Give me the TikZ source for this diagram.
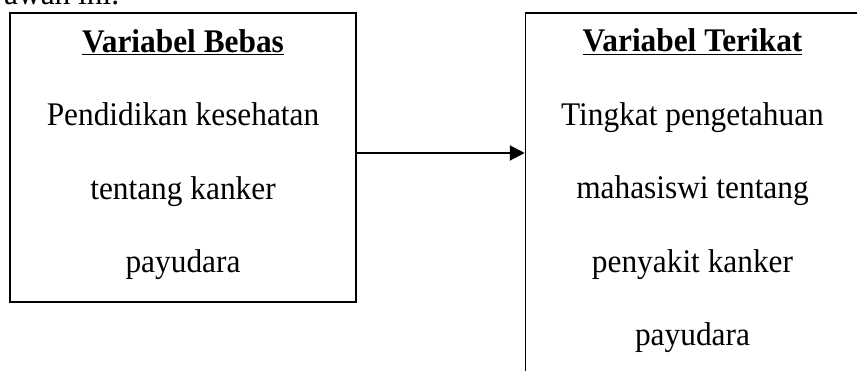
\documentclass[tikz,border=0pt]{standalone}
\usepackage{fontspec}
\setmainfont{Liberation Serif}[FakeStretch=0.95]
\usetikzlibrary{positioning,arrows.meta}

\begin{document}
\begin{tikzpicture}[%
    x=1pt, y=-1pt,
    varbox/.style={%
        draw,
        line width=1.5pt,
        align=center,
        inner sep=0pt,
        text depth=13pt,
        font=\fontsize{33}{73.5}\selectfont,
        text=black,
    },
    linkarrow/.style={%
        line width=2pt,
        -{Triangle[length=15pt,width=15pt]},
    }
]
% 画布大小, 超出部分裁掉
\path[use as bounding box, clip] (0,0) rectangle (857,370);

% 上一段的尾巴 (只露出一点)
\node[anchor=base west, inner sep=0pt, font=\fontsize{33}{73.5}\selectfont] (intro) at (4,4) {awah ini.};

\node[varbox, minimum width=346pt, minimum height=289pt] (bebas) at (183,157.5) {%
    \underline{\textbf{Variabel Bebas}}\\
    Pendidikan kesehatan\\
    tentang kanker\\
    payudara};

\node[varbox, minimum width=334pt, minimum height=362pt,
      right=168pt of bebas.north east, anchor=north west] (terikat) {%
    \underline{\textbf{Variabel Terikat}}\\
    Tingkat pengetahuan\\
    mahasiswi tentang\\
    penyakit kanker\\
    payudara};

% 连接箭头
\draw[linkarrow] ([yshift=4.5pt]bebas.east) -- ([yshift=4.5pt]bebas.east -| terikat.west);

\end{tikzpicture}
\end{document}
